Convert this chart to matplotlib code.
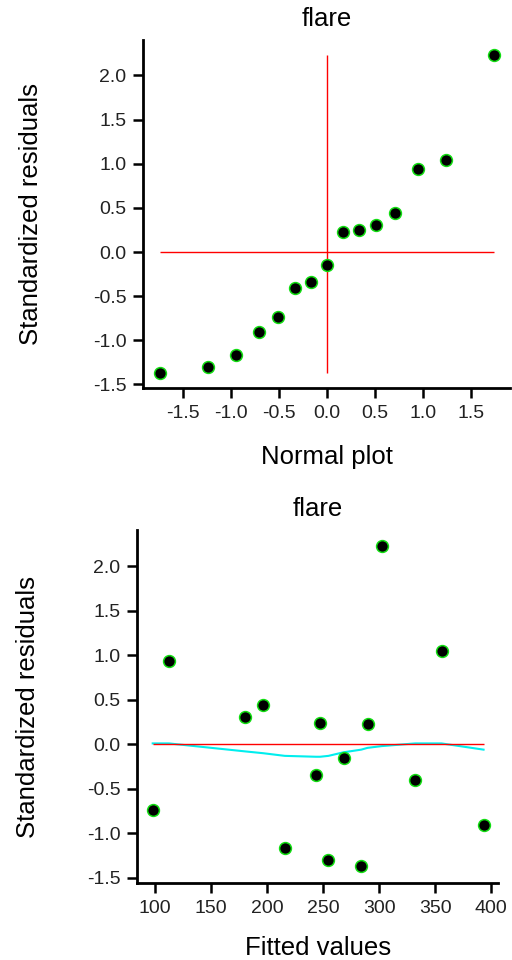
import matplotlib
matplotlib.use("Agg")
import matplotlib.pyplot as plt
import numpy as np

plt.rcParams['font.family'] = ['Liberation Sans', 'DejaVu Sans']
plt.rcParams['axes.unicode_minus'] = False

# residual diagnostics for the "flare" model
fitted = [98, 112.5, 180.6, 196.4, 215.8, 243.5, 247.3, 254.8, 268.2, 284, 289.6, 302.4, 332.1, 355.6, 393.1]
std_resid = [-0.74, 0.935, 0.31, 0.44, -1.17, -0.34, 0.245, -1.30, -0.15, -1.37, 0.23, 2.235, -0.405, 1.045, -0.91]
# smoothed trend of the residuals, read at each fitted value
smooth = [0.01, 0.01, -0.08, -0.10, -0.13, -0.14, -0.14, -0.13, -0.09, -0.06, -0.04, -0.02, 0.01, 0.01, -0.06]
# normal quantiles on the x axis of the normal plot
normal_q = [-1.74, -1.245, -0.946, -0.714, -0.515, -0.334, -0.165, 0.0, 0.165, 0.334, 0.515, 0.714, 0.946, 1.245, 1.74]

title = "flare"
y_ticks = [-1.5, -1.0, -0.5, 0.0, 0.5, 1.0, 1.5, 2.0]
qq_ticks = [-1.5, -1.0, -0.5, 0.0, 0.5, 1.0, 1.5]
fit_ticks = [100, 150, 200, 250, 300, 350, 400]

fig = plt.figure(figsize=(5.12, 9.6), dpi=100)
ax1 = fig.add_axes([0.2793, 0.5958, 0.996 - 0.2793, 0.9583 - 0.5958])
ax2 = fig.add_axes([0.268, 0.0802, 0.9727 - 0.268, 0.4479 - 0.0802])


def style(ax, ypad):
    for s in ("top", "right"):
        ax.spines[s].set_visible(False)
    for s in ("left", "bottom"):
        ax.spines[s].set_linewidth(2.0)
    ax.tick_params(direction="out", length=7, width=1.8, labelsize=14,
                   labelcolor="#222222", pad=5)
    ax.set_ylabel("Standardized residuals", fontsize=18.5, labelpad=ypad)
    ax.set_title(title, fontsize=18.5, pad=10)


def dots(ax, x, y):
    ax.plot(x, y, "o", color="black", markersize=8.5,
            markeredgecolor="#11dd11", markeredgewidth=1.1)


# normal plot
sorted_resid = np.sort(std_resid)
ax1.hlines(0, min(normal_q), max(normal_q), colors="red", linewidth=1.0)
ax1.vlines(0, sorted_resid.min(), sorted_resid.max(), colors="red", linewidth=1.0)
dots(ax1, normal_q, sorted_resid)
ax1.set_xlim(-1.92, 1.91)
ax1.set_ylim(-1.54, 2.40)
ax1.set_xticks(qq_ticks)
ax1.set_yticks(y_ticks)
style(ax1, 36)
ax1.set_xlabel("Normal plot", fontsize=18.5, labelpad=17)

# residuals vs fitted
ax2.plot(fitted, smooth, color="#00eeee", linewidth=1.5)
ax2.hlines(0, min(fitted), max(fitted), colors="red", linewidth=1.0)
dots(ax2, fitted, std_resid)
ax2.set_xlim(84.2, 406)
ax2.set_ylim(-1.56, 2.41)
ax2.set_xticks(fit_ticks)
ax2.set_yticks(y_ticks)
style(ax2, 34)
ax2.set_xlabel("Fitted values", fontsize=18.5, labelpad=14)

fig.savefig("out.png", dpi=100)
